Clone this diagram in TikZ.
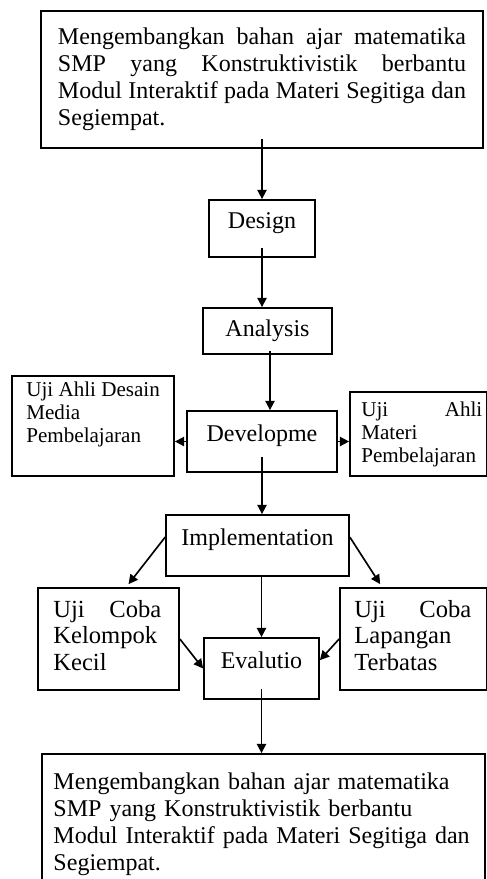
\documentclass[tikz,border=0pt]{standalone}
\usepackage{fontspec}
\setmainfont{Liberation Serif}
\usepackage{tikz}
\usetikzlibrary{
  positioning,
  calc,
  arrows.meta
}

\newcommand{\fillline}[1]{\leavevmode\hbox to \hsize{\spaceskip=0.25em plus 1fill\relax #1}}

\begin{document}
\begin{tikzpicture}[scale=1.0,
    box/.style={draw, line width=1.5pt, inner sep=0pt},
    stepbox/.style={box, font=\fontsize{20.5}{24}\selectfont, text height=0.5cm, text depth=0.5cm},
    goalbox/.style={box, align=left, font=\fontsize{20.5}{23}\selectfont},
    sidetext/.style={anchor=north west, align=left},
    arr/.style={-{Triangle[length=0.28cm,width=0.28cm]}, line width=1.4pt}
  ]
      \useasboundingbox (0,0) rectangle (14.61,-26.37);

      % Goal
      \node[goalbox, text width=12.24cm, inner xsep=0.51cm, minimum height=4.11cm] (goal) at (7.86,-2.385) {
        \fillline{Mengembangkan bahan ajar matematika}\\
        \fillline{SMP yang Konstruktivistik berbantu}\\
        \fillline{Modul Interaktif pada Materi Segitiga dan}\\
        Segiempat.};

      % Steps
      \node[stepbox, minimum width=3.18cm, minimum height=1.71cm] (design) at (7.86,-6.855) {Design};
      \node[stepbox, text depth=0.15cm, minimum width=3.87cm, minimum height=1.38cm] (analysis) at (8.025,-9.93) {Analysis};
      \node[stepbox, minimum width=4.5cm, minimum height=1.83cm] (develop) at (7.86,-13.245) {Developme};
      \node[stepbox, minimum width=5.49cm, minimum height=1.83cm] (impl) at (7.725,-16.365) {Implementation};
      \node[stepbox, minimum width=3.45cm, minimum height=1.83cm] (eval) at (7.845,-20.055) {Evalutio};

      % Expert tests
      \node[box, minimum width=4.86cm, minimum height=3.0cm,
        label={[sidetext, inner xsep=0.45cm, inner ysep=0.21cm, font=\fontsize{18}{19.5}\selectfont]north west:{Uji Ahli Desain\\Media\\Pembelajaran}}] (ahlidesain) at (2.79,-12.78) {};
      \node[box, minimum width=4.11cm, minimum height=2.52cm,
        label={[sidetext, text width=3.63cm, inner xsep=0.36cm, inner ysep=0.33cm, font=\fontsize{18}{19.5}\selectfont]north west:{\fillline{Uji Ahli}\\Materi\\Pembelajaran}}] (ahlimateri) at (12.555,-13.02) {};

      % Field tests
      \node[box, minimum width=4.23cm, minimum height=3.06cm,
        label={[sidetext, text width=3.24cm, inner xsep=0.48cm, inner ysep=0.39cm, font=\fontsize{21}{22.5}\selectfont]north west:{\fillline{Uji Coba}\\Kelompok\\Kecil}}] (ujikecil) at (3.255,-19.17) {};
      \node[box, minimum width=4.41cm, minimum height=3.06cm,
        label={[sidetext, text width=3.51cm, inner xsep=0.45cm, inner ysep=0.39cm, font=\fontsize{21}{22.5}\selectfont]north west:{\fillline{Uji Coba}\\Lapangan\\Terbatas}}] (ujiterbatas) at (12.405,-19.17) {};

      % Result
      \node[goalbox, text width=12.6cm, inner xsep=0.345cm, minimum height=4.23cm] (result) at (7.905,-24.735) {
        Mengembangkan bahan ajar matematika\\
        SMP yang Konstruktivistik berbantu\\
        Modul Interaktif pada Materi Segitiga dan\\
        Segiempat.};

      % Arrows
      \draw[arr] ([yshift=0.3cm]goal.south) -- (design);
      \draw[arr] ([yshift=0.3cm]design.south) -- (design.south |- analysis.north);
      \draw[arr] ([xshift=0.075cm,yshift=0.12cm]analysis.south) -- ([xshift=0.075cm]analysis.south |- develop.north);
      \draw[arr] (develop.west) -- (develop.west -| ahlidesain.east);
      \draw[arr] (develop.east) -- (develop.east -| ahlimateri.west);
      \draw[arr] ([yshift=0.48cm]develop.south) -- (develop.south |- impl.north);
      \draw[arr] ([yshift=0.25cm]impl.west) -- ([xshift=0.6cm,yshift=0.09cm]ujikecil.north);
      \draw[arr] ([yshift=0.25cm]impl.east) -- ([xshift=-1.0cm,yshift=0.09cm]ujiterbatas.north);
      \draw[arr] (eval.north |- impl.south) -- (eval.north);
      \draw[arr] (ujikecil.east) -- (eval.west);
      \draw[arr] (ujiterbatas.west) -- ([yshift=0.25cm]eval.east);
      \draw[arr] ([yshift=0.33cm]eval.south) -- (eval.south |- result.north);
    \end{tikzpicture}
\end{document}
